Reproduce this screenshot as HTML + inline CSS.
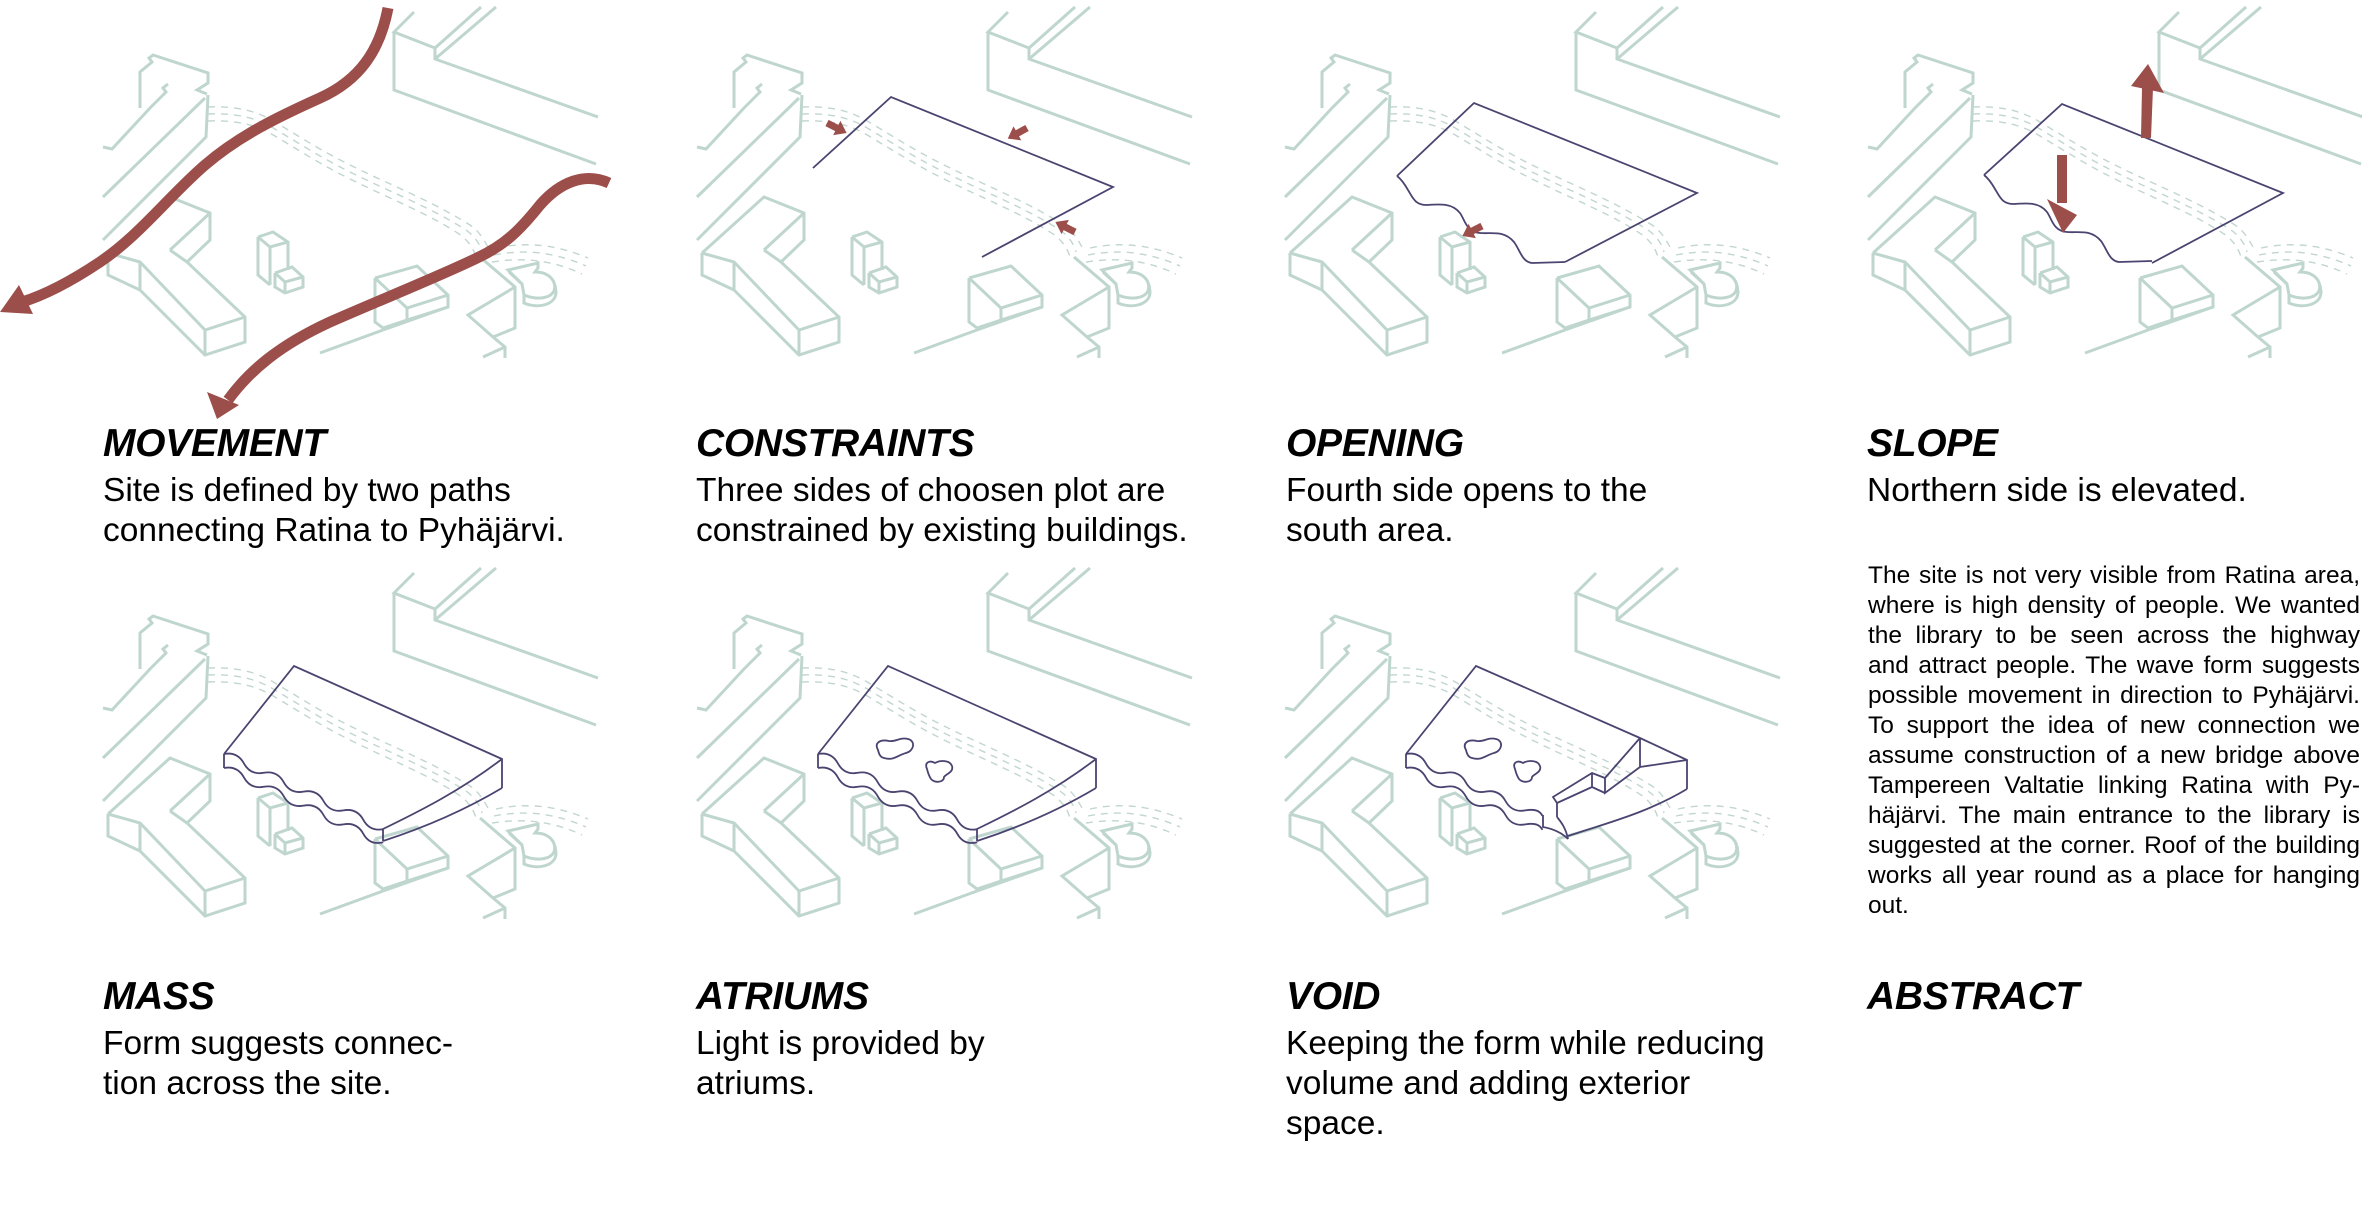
<!DOCTYPE html>
<html><head><meta charset="utf-8">
<style>
html,body{margin:0;padding:0;background:#fff;}
body{width:2362px;height:1215px;position:relative;overflow:hidden;font-family:"Liberation Sans",sans-serif;color:#000;}
svg{position:absolute;left:0;top:0;}
.t{position:absolute;font-style:italic;font-weight:bold;font-size:39px;line-height:39px;white-space:nowrap;letter-spacing:-0.3px;}
.b{position:absolute;font-size:33.5px;line-height:40px;white-space:nowrap;}
.ab{position:absolute;left:1868px;top:561px;width:492px;font-size:24.5px;line-height:30px;}
.ab div{text-align:justify;text-align-last:justify;white-space:nowrap;height:30px;}
.ab div.l{text-align-last:left;}
</style></head><body>
<svg width="2362" height="1215" viewBox="0 0 2362 1215">
<defs>
<symbol id="base" overflow="visible">
<g fill="none" stroke="#bfd6cf" stroke-width="3" stroke-linejoin="miter">
<polyline points="414,12 394,32 435,48 435,59 598,117"/>
<polyline points="394,32 394,90 596,164"/>
<line x1="435" y1="48" x2="481" y2="7"/>
<line x1="435" y1="59" x2="496" y2="7"/>
<path d="M140,108 L140,72 L152,62 L149,58 L153,55 L208,73 L208,83 L197,90 L207,94"/>
<path d="M103,147 L112,149 L150,108 L166,92 L163,88 L168,84"/>
<path d="M208,95 L206,137 L103,240"/>
<line x1="103" y1="197" x2="205" y2="98"/>
<polyline points="108,253 170,197 210,213 210,240 187,262 245,317 245,342 205,355 140,290 108,275 108,253"/>
<polyline points="170,250 210,213"/>
<polyline points="170,250 187,262"/>
<polyline points="108,253 140,262 205,330 245,317"/>
<line x1="140" y1="262" x2="140" y2="290"/>
<line x1="205" y1="330" x2="205" y2="355"/>
<polyline points="258,237 273,232 288,242 288,270"/>
<polyline points="258,237 270,247 288,242"/>
<polyline points="258,237 258,275 270,285"/>
<line x1="270" y1="247" x2="270" y2="285"/>
<polyline points="275,273 292,267 303,277 303,287 285,293 275,287 275,273"/>
<polyline points="275,273 285,282 303,277"/>
<line x1="285" y1="282" x2="285" y2="293"/>
<polyline points="375,278 417,266 448,295 448,307 407,320 383,328 375,322 375,278"/>
<polyline points="375,278 407,308 448,295"/>
<line x1="407" y1="308" x2="407" y2="320"/>
<line x1="320" y1="353" x2="383" y2="330"/>
<line x1="383" y1="330" x2="448" y2="307"/>
<polyline points="480,257 515,287 515,328 493,337"/>
<polyline points="515,287 468,315 493,337 505,347 505,358"/>
<line x1="483" y1="357" x2="505" y2="347"/>
<path d="M508,270 L538,263 L538,268 L535,272 C550,272 557,282 554,291 C550,299 536,300 524,295 L522,284 Z"/>
<path d="M522,284 L509,272"/>
<path d="M524,295 L524,303 C538,309 556,305 556,292 L555,285"/>
</g>
<g fill="none" stroke="#c2d6d0" stroke-width="1.4" stroke-dasharray="7 6">
<path d="M208,107 C235,106 255,110 275,122 C300,137 320,150 350,165 C390,185 430,200 470,225 C480,232 484,240 488,247"/>
<path d="M208,114 C235,113 255,117 275,129 C300,144 320,157 350,172 C390,192 430,207 466,230 C476,237 480,245 482,252"/>
<path d="M208,121 C235,120 255,124 275,136 C300,151 320,164 350,179 C390,199 430,214 462,236 C470,243 474,250 476,257"/>
<path d="M496,248 C520,243 550,242 588,258"/>
<path d="M494,255 C520,250 550,250 586,266"/>
<path d="M492,262 C518,258 548,258 582,274"/>
</g>
</symbol>
<path id="wave" d="M224,193 q13.35,-2.5 19.9,9.4 t19.9,9.4 t19.9,9.4 t19.9,9.4 t19.9,9.4 t19.9,9.4 t19.9,9.4 t19.9,9.4"/>
<path id="wave2" d="M224,207 q13.35,-2.5 19.9,9.4 t19.9,9.4 t19.9,9.4 t19.9,9.4 t19.9,9.4 t19.9,9.4 t19.9,9.4 t19.9,8.4"/>
<path id="irr" d="M215,176 C219,179 222,183 226,190 C231,198 233,205 245,205 C258,204 270,203 278,213 C283,220 284,232 298,233 C310,234 322,230 332,242 C338,250 340,262 350,263 L383,262"/>
<polygon id="sarr" points="0,-3.5 11,-3.5 11,-8 22,0 11,8 11,3.5 0,3.5"/>
</defs>

<use href="#base" x="0" y="0"/>
<use href="#base" x="594" y="0"/>
<use href="#base" x="1182" y="0"/>
<use href="#base" x="1765" y="0"/>
<use href="#base" x="0" y="561"/>
<use href="#base" x="594" y="561"/>
<use href="#base" x="1182" y="561"/>

<g fill="none" stroke="#9c4e4b" stroke-width="11">
<path d="M388,8 C380,50 360,80 320,98 C280,116 240,135 205,165 C170,195 140,235 100,262 C70,282 45,295 22,302"/>
<path d="M609,183 C585,172 560,182 540,205 C520,230 505,245 477,258 C440,276 380,300 330,322 C280,345 250,370 228,400"/>
</g>
<g fill="#9c4e4b">
<polygon points="0,312 33,314 19,285"/>
<polygon points="217,419 207,392 239,405"/>
</g>

<g transform="translate(594,0)">
<polyline points="219,168 297,97 519,187 388,257" fill="none" stroke="#4a4470" stroke-width="1.8"/>
<g fill="#9c4e4b">
<use href="#sarr" transform="translate(233,123) rotate(27)"/>
<use href="#sarr" transform="translate(433,128) rotate(151)"/>
<use href="#sarr" transform="translate(481,232) rotate(207)"/>
</g>
</g>

<g transform="translate(1182,0)" fill="none" stroke="#4a4470" stroke-width="1.8">
<polyline points="215,176 292,103 515,193 383,262"/>
<use href="#irr"/>
<use href="#sarr" fill="#9c4e4b" stroke="none" transform="translate(300,226) rotate(153)"/>
</g>

<g transform="translate(1765,0)">
<g fill="none" stroke="#4a4470" stroke-width="1.8">
<polyline points="219,175 297,104 518,193 387,263"/>
<use href="#irr" transform="translate(4,-1)"/>
</g>
<g fill="#9c4e4b">
<polygon points="376,138 386,138 388,88 377,88"/>
<polygon points="366,86 383,64 399,93"/>
<polygon points="292,155 302,155 302,203 292,203"/>
<polygon points="282,199 312,215 298,233"/>
</g>
</g>

<g fill="none" stroke="#4a4470" stroke-width="1.8">
<g transform="translate(0,561)">
<path d="M224,193 L294,105 L502,198 L502,227"/>
<path d="M502,198 C460,230 420,250 383,268 L383,280"/>
<path d="M502,227 C460,252 420,268 383,280"/>
<use href="#wave"/>
<use href="#wave2"/>
<line x1="224" y1="193" x2="224" y2="207"/>
</g>
</g>
<g transform="translate(594,561)" fill="none" stroke="#4a4470" stroke-width="1.8">
<path d="M224,193 L294,105 L502,198 L502,227"/>
<path d="M502,198 C460,230 420,250 383,268 L383,280"/>
<path d="M502,227 C460,252 420,268 383,280"/>
<use href="#wave"/>
<use href="#wave2"/>
<line x1="224" y1="193" x2="224" y2="207"/>
<path d="M284,189 C280,182 286,178 295,180 C302,181 306,176 314,178 C322,180 320,190 312,192 C304,194 300,200 290,197 C286,196 285,193 284,189 Z"/>
<path d="M333,208 C330,201 336,199 341,202 C346,199 356,199 358,205 C360,211 352,213 350,216 C350,222 340,222 337,218 C335,215 334,212 333,208 Z"/>
</g>
<g transform="translate(1182,561)" fill="none" stroke="#4a4470" stroke-width="1.8">
<path d="M224,193 L294,105 L458,177 L505,199 L505,228"/>
<path d="M458,177 L458,206 L505,199"/>
<path d="M458,177 L423,217 L410,212 L371,236 L375,242 L375,256"/>
<path d="M423,217 L423,232 L458,206"/>
<path d="M410,212 L410,226 L423,232"/>
<path d="M375,242 L410,226"/>
<path d="M505,228 C465,252 425,262 386,275"/>
<path d="M375,256 C380,262 384,268 386,278"/>
<path d="M361,254 L361,266 C372,268 380,272 386,278"/>
<path d="M224,193 q13.35,-2.5 19.9,9.4 t19.9,9.4 t19.9,9.4 t19.9,9.4 t19.9,9.4 t19.9,9.4 t17,5.5"/>
<path d="M224,207 q13.35,-2.5 19.9,9.4 t19.9,9.4 t19.9,9.4 t19.9,9.4 t19.9,9.4 t19.9,9.4 t17,5.5"/>
<line x1="224" y1="193" x2="224" y2="207"/>
<path d="M284,189 C280,182 286,178 295,180 C302,181 306,176 314,178 C322,180 320,190 312,192 C304,194 300,200 290,197 C286,196 285,193 284,189 Z"/>
<path d="M333,208 C330,201 336,199 341,202 C346,199 356,199 358,205 C360,211 352,213 350,216 C350,222 340,222 337,218 C335,215 334,212 333,208 Z"/>
</g>
</svg>

<div class="t" style="left:103px;top:424px;">MOVEMENT</div>
<div class="t" style="left:696px;top:424px;">CONSTRAINTS</div>
<div class="t" style="left:1286px;top:424px;">OPENING</div>
<div class="t" style="left:1867px;top:424px;">SLOPE</div>
<div class="b" style="left:103px;top:471px;">Site is defined by two paths<br>connecting Ratina to Pyhäjärvi.</div>
<div class="b" style="left:696px;top:471px;">Three sides of choosen plot are<br>constrained by existing buildings.</div>
<div class="b" style="left:1286px;top:471px;">Fourth side opens to the<br>south area.</div>
<div class="b" style="left:1867px;top:471px;">Northern side is elevated.</div>

<div class="t" style="left:103px;top:977px;">MASS</div>
<div class="t" style="left:696px;top:977px;">ATRIUMS</div>
<div class="t" style="left:1286px;top:977px;">VOID</div>
<div class="t" style="left:1867px;top:977px;">ABSTRACT</div>
<div class="b" style="left:103px;top:1024px;">Form suggests connec-<br>tion across the site.</div>
<div class="b" style="left:696px;top:1024px;">Light is provided by<br>atriums.</div>
<div class="b" style="left:1286px;top:1024px;">Keeping the form while reducing<br>volume and adding exterior<br>space.</div>

<div class="ab">
<div>The site is not very visible from Ratina area,</div>
<div>where is high density of people. We wanted</div>
<div>the library to be seen across the highway</div>
<div>and attract people. The wave form suggests</div>
<div>possible movement in direction to Pyhäjärvi.</div>
<div>To support the idea of new connection we</div>
<div>assume construction of a new bridge above</div>
<div>Tampereen Valtatie linking Ratina with Py-</div>
<div>häjärvi. The main entrance to the library is</div>
<div>suggested at the corner. Roof of the building</div>
<div>works all year round as a place for hanging</div>
<div class="l">out.</div>
</div>
</body></html>
